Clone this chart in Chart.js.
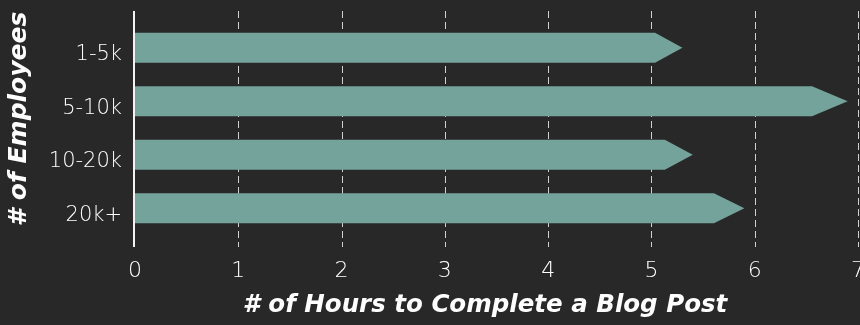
<!DOCTYPE html>
<html>
<head>
<meta charset="utf-8">
<script src="https://cdn.jsdelivr.net/npm/chart.js@4/dist/chart.umd.min.js"></script>
<style>
    html, body { margin: 0; padding: 0; background: #282828; }
    #wrap { width: 860px; height: 325px; }
</style>
</head>
<body>
<div id="wrap"><canvas id="chart" width="860" height="325"></canvas></div>
<script>
// Данные графика
const employeeBands = ['1-5k', '5-10k', '10-20k', '20k+'];
const blogHours = [5.3, 6.9, 5.4, 5.9];
const hourTicks = [0, 1, 2, 3, 4, 5, 6, 7];

const xTitle = '# of Hours to Complete a Blog Post';
const yTitle = '# of Employees';

const bg = '#282828';
const barColor = '#74a39b';
const textColor = '#ffffff';
const fontFamily = "'DejaVu Sans', sans-serif";

InitChart();

function InitChart()
{
    let ctx = document.getElementById('chart').getContext('2d');

    // Фон
    const background = {
        id: 'background',
        beforeDraw(chart) {
            const c = chart.ctx;
            c.save();
            c.fillStyle = bg;
            c.fillRect(0, 0, chart.width, chart.height);
            c.restore();
        }
    };

    // Пунктирная сетка и ось нуля, чуть длиннее области графика
    const grid = {
        id: 'grid',
        beforeDatasetsDraw(chart) {
            const c = chart.ctx;
            const x = chart.scales.x;
            const top = chart.chartArea.top - 10;
            const bottom = chart.chartArea.bottom + 12;
            c.save();
            c.strokeStyle = '#d0d0d0';
            c.lineWidth = 1;
            c.setLineDash([7, 4]);
            hourTicks.forEach(function (t) {
                if (t === 0) return;
                const px = Math.round(x.getPixelForValue(t)) + 0.5;
                c.beginPath();
                c.moveTo(px, top);
                c.lineTo(px, bottom);
                c.stroke();
            });
            c.setLineDash([]);
            c.strokeStyle = '#f2f2f2';
            c.lineWidth = 2;
            const zx = x.getPixelForValue(0) - 1;
            c.beginPath();
            c.moveTo(zx, top);
            c.lineTo(zx, bottom);
            c.stroke();
            c.restore();
        }
    };

    // Полосы в виде стрелок
    const arrows = {
        id: 'arrows',
        afterDatasetsDraw(chart) {
            const c = chart.ctx;
            const meta = chart.getDatasetMeta(0);
            c.save();
            c.fillStyle = barColor;
            meta.data.forEach(function (bar) {
                const p = bar.getProps(['x', 'y', 'base', 'height'], true);
                const head = (p.x - p.base) * 0.05;
                const t = p.y - p.height / 2;
                const b = p.y + p.height / 2;
                c.beginPath();
                c.moveTo(p.base, t);
                c.lineTo(p.x - head, t);
                c.lineTo(p.x, p.y);
                c.lineTo(p.x - head, b);
                c.lineTo(p.base, b);
                c.closePath();
                c.fill();
            });
            c.restore();
        }
    };

    // Подписи осей
    const titles = {
        id: 'titles',
        afterDraw(chart) {
            const c = chart.ctx;
            c.save();
            c.fillStyle = '#ffffff';
            c.font = 'italic bold 24.5px ' + fontFamily;
            c.textAlign = 'center';
            c.textBaseline = 'middle';
            c.fillText(xTitle, 485, 306);
            c.font = 'italic bold 25px ' + fontFamily;
            c.translate(19, 119);
            c.rotate(-Math.PI / 2);
            c.fillText(yTitle, 0, 0);
            c.restore();
        }
    };

    new Chart(ctx, {
        type: 'bar',
        data: {
            labels: employeeBands,
            datasets: [
                {
                    data: blogHours,
                    backgroundColor: 'rgba(0,0,0,0)',
                    borderWidth: 0,
                    barThickness: 30
                }
            ]
        },
        options: {
            indexAxis: 'y',
            responsive: false,
            animation: false,
            layout: {
                padding: { top: 21, right: 2, left: 0, bottom: 0 }
            },
            plugins: {
                legend: { display: false },
                tooltip: { enabled: false }
            },
            scales: {
                x: {
                    min: hourTicks[0],
                    max: hourTicks[hourTicks.length - 1],
                    grid: { display: false, drawTicks: false },
                    border: { display: false },
                    ticks: {
                        stepSize: 1,
                        color: textColor,
                        padding: 23,
                        font: { family: fontFamily, size: 22, weight: 200 },
                        maxRotation: 0,
                        autoSkip: false
                    },
                    afterFit(scale) {
                        scale.height = 90;
                        scale.paddingLeft = 0;
                        scale.paddingRight = 0;
                    }
                },
                y: {
                    grid: { display: false, drawTicks: false },
                    border: { display: false },
                    ticks: {
                        color: textColor,
                        padding: 13,
                        labelOffset: 7,
                        font: { family: fontFamily, size: 21, weight: 200 }
                    },
                    afterFit(scale) {
                        scale.width = 135;
                        scale.paddingTop = 0;
                        scale.paddingBottom = 0;
                    }
                }
            }
        },
        plugins: [background, grid, arrows, titles]
    });
}
</script>
</body>
</html>
